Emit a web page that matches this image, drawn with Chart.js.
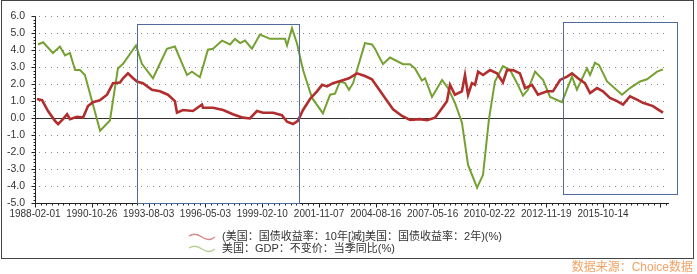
<!DOCTYPE html>
<html>
<head>
<meta charset="utf-8">
<script src="https://cdn.jsdelivr.net/npm/chart.js@4"></script>
<style>
  html, body { margin: 0; padding: 0; background: #fff; }
  #wrap { position: relative; width: 697px; height: 274px; }
  canvas { position: absolute; left: 0; top: 0; }
  .legend { position: absolute; left: 188px; font: 11px "Liberation Sans", "Noto Sans CJK SC", sans-serif; color: #333; white-space: nowrap; }
  .legend svg { vertical-align: middle; margin-right: 6px; }
  .src { position: absolute; right: 4px; top: 257px; font: 12px "Liberation Sans", "Noto Sans CJK SC", sans-serif; color: #f3a266; }
</style>
</head>
<body>
<div id="wrap">
  <canvas id="chart" width="697" height="274"></canvas>
  <div class="legend" style="top:227px"><svg width="28" height="8"><path d="M1 3 Q7 -1 14 4 T27 4" fill="none" stroke="#d98a8a" stroke-width="1.4"/></svg>(美国：国债收益率：10年[减]美国：国债收益率：2年)(%)</div>
  <div class="legend" style="top:239px"><svg width="28" height="8"><path d="M1 3 Q7 -1 14 4 T27 4" fill="none" stroke="#b9cf98" stroke-width="1.4"/></svg>美国：GDP：不变价：当季同比(%)</div>
  <div class="src">数据来源：Choice数据</div>
</div>
<script>
// tick labels on the x axis (evenly spaced, trading-day axis)
var xLabels = ['1988-02-01', '1990-10-26', '1993-08-03', '1996-05-03', '1999-02-10', '2001-11-07',
  '2004-08-16', '2007-05-16', '2010-02-22', '2012-11-19', '2015-10-14']
var xStart = 1988.085
var xStep = 2.771

// 10y - 2y treasury spread (%)
var spreadX = [1988.18, 1988.43, 1988.72, 1989.06, 1989.21, 1989.45, 1989.65, 1989.79, 1990.13, 1990.43,
  1990.67, 1990.91, 1991.26, 1991.60, 1991.89, 1992.23, 1992.38, 1992.62, 1992.87, 1993.06,
  1993.35, 1993.79, 1994.18, 1994.57, 1994.91, 1995.01, 1995.30, 1995.79, 1996.23, 1996.28,
  1996.77, 1997.26, 1997.74, 1998.23, 1998.57, 1998.91, 1999.21, 1999.70, 2000.13, 2000.38,
  2000.67, 2000.91, 2001.16, 2001.50, 2001.84, 2002.09, 2002.33, 2002.62, 2003.06, 2003.40,
  2003.79, 2004.18, 2004.52, 2004.82, 2005.16, 2005.55, 2005.99, 2006.38, 2006.87, 2007.21,
  2007.60, 2007.84, 2008.18, 2008.33, 2008.57, 2008.91, 2009.06, 2009.21, 2009.40, 2009.55,
  2009.70, 2009.94, 2010.28, 2010.62, 2010.91, 2011.11, 2011.40, 2011.74, 2011.99, 2012.33,
  2012.62, 2013.06, 2013.35, 2013.70, 2014.04, 2014.28, 2014.57, 2014.91, 2015.16, 2015.50,
  2015.79, 2016.13, 2016.48, 2016.77, 2017.11, 2017.45, 2017.74, 2018.23, 2018.43, 2018.72]
var spreadY = [1.13, 1.06, 0.42, -0.16, -0.35, -0.06, 0.23, -0.06, 0.08, 0.03,
  0.71, 0.94, 1.06, 1.38, 2.06, 2.10, 2.35, 2.64, 2.35, 2.16,
  2.06, 1.67, 1.58, 1.38, 1.00, 0.32, 0.48, 0.42, 0.80, 0.61,
  0.61, 0.48, 0.23, 0.03, -0.02, 0.42, 0.32, 0.32, 0.17, -0.21,
  -0.35, -0.16, 0.48, 1.13, 1.58, 1.96, 1.87, 2.06, 2.22, 2.35,
  2.64, 2.48, 2.29, 1.77, 1.19, 0.52, 0.13, -0.10, -0.06, -0.12,
  0.03, 0.42, 1.00, 1.96, 1.38, 1.58, 2.54, 1.38, 2.06, 1.96,
  2.74, 2.54, 2.83, 2.64, 2.10, 2.83, 2.83, 2.64, 1.77, 1.96,
  1.38, 1.58, 1.58, 2.25, 2.45, 2.64, 2.35, 2.06, 1.48, 1.77,
  1.58, 1.19, 1.00, 0.80, 1.29, 1.09, 0.90, 0.71, 0.55, 0.32]

// US real GDP, y/y (%)
var gdpX = [1988.23, 1988.48, 1988.96, 1989.30, 1989.55, 1989.79, 1990.04, 1990.28, 1990.52, 1991.26,
  1991.74, 1992.13, 1992.38, 1993.01, 1993.30, 1993.84, 1994.52, 1994.91, 1995.50, 1995.74,
  1996.13, 1996.52, 1996.77, 1997.21, 1997.60, 1997.84, 1998.09, 1998.33, 1998.67, 1999.06,
  1999.55, 2000.28, 2000.38, 2000.62, 2000.87, 2001.16, 2001.60, 2002.13, 2002.48, 2002.72,
  2002.96, 2003.21, 2003.40, 2003.60, 2004.18, 2004.52, 2004.67, 2005.06, 2005.40, 2006.04,
  2006.38, 2006.62, 2006.96, 2007.11, 2007.45, 2007.94, 2008.23, 2008.57, 2008.91, 2009.21,
  2009.65, 2009.94, 2010.23, 2010.52, 2010.91, 2011.26, 2011.60, 2011.89, 2012.13, 2012.48,
  2012.87, 2013.21, 2013.79, 2014.28, 2014.52, 2015.01, 2015.16, 2015.40, 2015.60, 2015.99,
  2016.72, 2017.11, 2017.60, 2017.94, 2018.43, 2018.72]
var gdpY = [4.34, 4.47, 3.84, 4.22, 3.70, 3.84, 2.83, 2.83, 2.54, -0.74,
  -0.14, 2.93, 3.20, 4.28, 3.20, 2.35, 4.09, 4.22, 2.54, 2.74,
  2.41, 4.03, 4.09, 4.57, 4.34, 4.67, 4.42, 4.57, 4.09, 4.92,
  4.67, 4.67, 4.28, 5.30, 4.38, 2.83, 1.19, 0.28, 1.38, 1.44,
  2.16, 2.06, 1.67, 2.06, 4.42, 4.34, 4.09, 3.18, 3.57, 3.18,
  3.18, 2.93, 2.22, 2.35, 1.25, 2.25, 1.77, 0.90, -0.25, -2.76,
  -4.10, -3.34, -0.06, 2.16, 3.06, 2.83, 2.06, 1.33, 1.67, 2.74,
  2.25, 1.25, 0.94, 2.45, 1.67, 2.93, 2.54, 3.26, 3.12, 2.16,
  1.38, 1.77, 2.16, 2.29, 2.74, 2.87]

// highlight boxes [x0, x1, yTop, yBottom] in data units
var boxes = [[1993.06, 2000.96, 5.54, -5.0], [2013.84, 2019.40, 5.65, -4.48]]

function pts(xs, ys) {
  return xs.map((x, i) => ({ x: x, y: ys[i] }))
}

var decor = {
  id: 'decor',
  beforeDatasetsDraw(chart) {
    var c = chart.ctx, a = chart.chartArea
    var y = chart.scales.y
    c.save()
    c.fillStyle = '#8a8a8a'
    for (var v = -4; v <= 6; v++) {
      if (v === 0) continue
      var py = Math.round(y.getPixelForValue(v))
      for (var px = a.left + 4; px < a.right - 3; px += 6) c.fillRect(px, py, 1, 1)
    }
    c.strokeStyle = '#333'
    c.lineWidth = 1
    var zy = Math.round(y.getPixelForValue(0)) + 0.5
    c.beginPath(); c.moveTo(a.left, zy); c.lineTo(a.right - 3, zy); c.stroke()
    c.restore()
  },
  afterDraw(chart) {
    var c = chart.ctx, a = chart.chartArea
    var x = chart.scales.x, y = chart.scales.y
    c.save()
    c.strokeStyle = '#222'
    c.lineWidth = 1
    c.beginPath()
    var ax = a.left + 0.5, ay = Math.round(a.bottom) + 0.5
    c.moveTo(ax, a.top); c.lineTo(ax, ay)
    c.moveTo(ax, ay); c.lineTo(a.right + 2, ay)
    // y minor ticks
    for (var i = 0; i <= 55; i++) {
      var v = -5 + i * 0.2
      var py = Math.round(y.getPixelForValue(v)) + 0.5
      var len = (i % 5 === 0) ? 4 : 2
      c.moveTo(ax - len, py); c.lineTo(ax, py)
    }
    // x minor ticks
    for (var k = 0; ; k++) {
      var xv = xStart + k * xStep / 10
      if (xv > x.max) break
      var px = Math.round(x.getPixelForValue(xv)) + 0.5
      var l2 = (k % 10 === 0) ? 4 : 2
      c.moveTo(px, ay); c.lineTo(px, ay + l2)
    }
    c.stroke()
    // highlight boxes
    c.strokeStyle = '#4d6c9c'
    boxes.forEach(b => {
      var x0 = Math.round(x.getPixelForValue(b[0])) + 0.5
      var x1 = Math.round(x.getPixelForValue(b[1])) + 0.5
      var y0 = Math.round(y.getPixelForValue(b[2])) + 0.5
      var y1 = Math.round(y.getPixelForValue(b[3])) + 0.5
      c.strokeRect(x0, y0, x1 - x0, y1 - y0)
    })
    // outer frame
    c.strokeStyle = '#444'
    c.strokeRect(1.5, 0.5, 692, 258)
    c.restore()
  }
}

var ctx = document.getElementById('chart').getContext('2d')
var myChart = new Chart(ctx, {
  type: 'line',
  data: {
    datasets: [
      {
        label: '(美国：国债收益率：10年[减]美国：国债收益率：2年)(%)',
        data: pts(spreadX, spreadY),
        borderColor: '#b22d2d',
        borderWidth: 2.6,
        pointRadius: 0,
        tension: 0,
      },
      {
        label: '美国：GDP：不变价：当季同比(%)',
        data: pts(gdpX, gdpY),
        borderColor: '#76a132',
        borderWidth: 2,
        pointRadius: 0,
        tension: 0,
      },
    ],
  },
  options: {
    responsive: false,
    animation: false,
    layout: { padding: { top: 12, right: 30, left: 0, bottom: 0 } },
    plugins: { legend: { display: false }, tooltip: { enabled: false } },
    scales: {
      x: {
        type: 'linear',
        min: xStart,
        max: xStart + (667 - 35) / 20.5,
        grid: { display: false, drawTicks: false },
        border: { display: false },
        afterBuildTicks(s) {
          s.ticks = xLabels.map((l, i) => ({ value: xStart + i * xStep }))
        },
        afterFit(s) { s.height = 71 },
        ticks: {
          autoSkip: false,
          maxRotation: 0,
          padding: 5,
          color: '#333',
          font: { family: 'Liberation Sans', size: 10 },
          callback: (v, i) => xLabels[i],
        },
      },
      y: {
        min: -5,
        max: 6,
        grid: { display: false, drawTicks: false },
        border: { display: false },
        afterFit(s) { s.width = 35 },
        ticks: {
          stepSize: 1,
          padding: 10,
          color: '#333',
          font: { family: 'Liberation Sans', size: 10.5 },
          callback: v => v.toFixed(1),
        },
      },
    },
  },
  plugins: [decor],
})
</script>
</body>
</html>
